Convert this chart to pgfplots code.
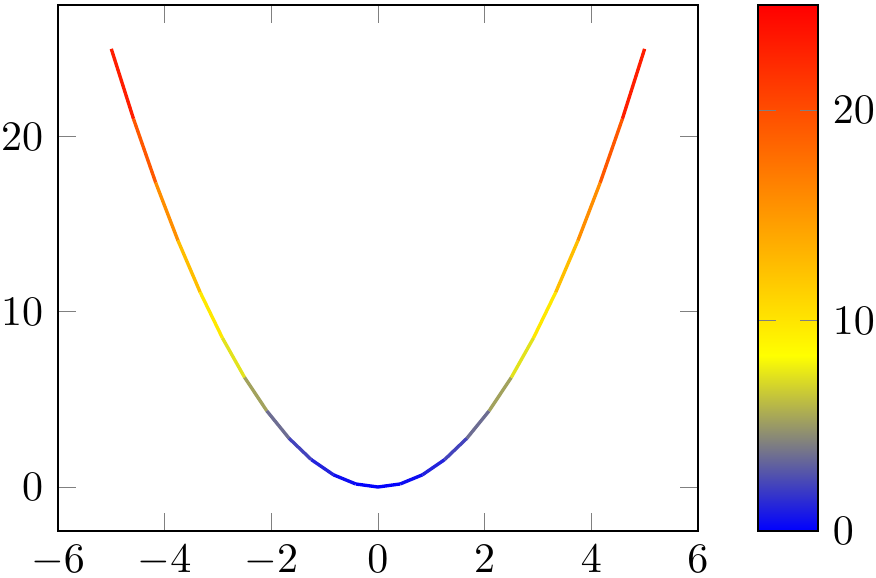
\documentclass[border=0pt]{standalone}
\usepackage{pgfplots}
\pgfplotsset{compat=1.18}
\begin{document}
\begin{tikzpicture}
\begin{axis}[
    name=ax,
    scale only axis,
    width=152.4pt, height=125.2pt,
    colorbar,
    colorbar style={ytick={0,10,20}},
]
\addplot[mesh, thick]
    coordinates {
    (-5,25)(-4.5833,21.0069)(-4.1667,17.3611)(-3.75,14.0625)(-3.3333,11.1111)
    (-2.9167,8.5069)(-2.5,6.25)(-2.0833,4.3403)(-1.6667,2.7778)(-1.25,1.5625)
    (-0.8333,0.6944)(-0.4167,0.1736)(0,0)
    (0.4167,0.1736)(0.8333,0.6944)(1.25,1.5625)(1.6667,2.7778)(2.0833,4.3403)
    (2.5,6.25)(2.9167,8.5069)(3.3333,11.1111)(3.75,14.0625)(4.1667,17.3611)
    (4.5833,21.0069)(5,25)
    };
\end{axis}
% tight box round the ink, as in the reference
\pgfresetboundingbox
\path[use as bounding box]
    ([xshift=-13.8pt,yshift=-11.2pt]ax.south west)
    rectangle ([xshift=42.4pt,yshift=1.2pt]ax.north east);
\end{tikzpicture}
\end{document}
